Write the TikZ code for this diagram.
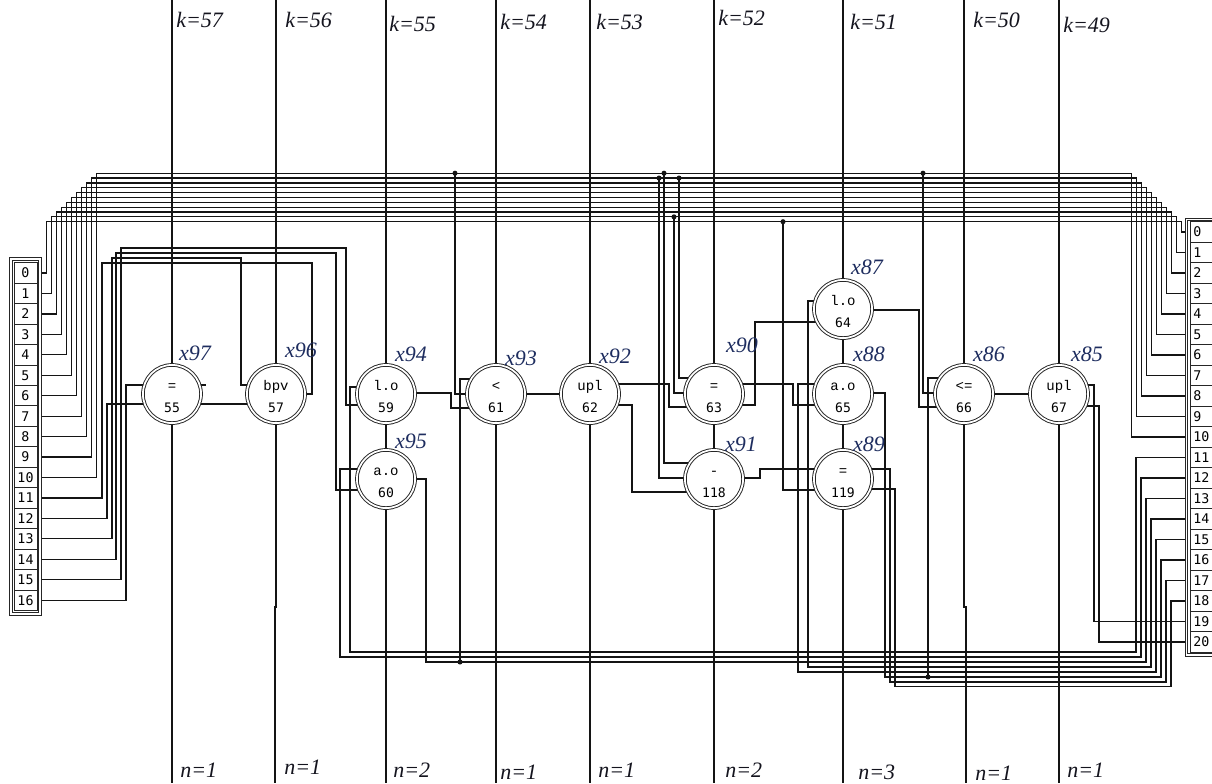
\documentclass[tikz,border=0pt]{standalone}
\usepackage{fontspec}
\setmainfont{Liberation Serif}
\newfontfamily\opfont{Liberation Mono}
\newfontfamily\numfont{DejaVu Sans Mono}
\usetikzlibrary{calc}
\pgfdeclarelayer{bg}
\pgfdeclarelayer{wires}
\pgfsetlayers{bg,wires,main}
\definecolor{wirec}{RGB}{20,20,20}
\definecolor{xlabc}{RGB}{30,45,95}
\definecolor{lblc}{RGB}{20,20,30}
\tikzset{
 wire/.style={draw=wirec, line width=0.9pt},
 frame/.style={draw=black!85, line width=0.7pt},
 opc/.style={circle, draw=black!85, line width=0.7pt, double=white, double distance=1.3pt, fill=white, minimum size=43.6pt, inner sep=0pt},
 optxt/.style={anchor=base, inner sep=0pt, font=\opfont\fontsize{10.5}{11}\selectfont},
 numtxt/.style={anchor=base, inner sep=0pt, font=\numfont\fontsize{9.8}{11}\selectfont},
 lcell/.style={draw=black!85, line width=0.7pt, rectangle, minimum width=17.25pt, minimum height=15.34pt, inner sep=0pt, font=\numfont\fontsize{10}{10}\selectfont},
 rcell/.style={draw=black!85, line width=0.7pt, rectangle, anchor=west, minimum height=15.375pt, text width=22pt, align=left, inner xsep=2.2pt, inner ysep=0pt, font=\numfont\fontsize{10}{10}\selectfont},
 klab/.style={anchor=west, inner sep=0pt, text=lblc, font=\itshape\fontsize{16.5}{18}\selectfont},
 xlab/.style={inner sep=0pt, text=xlabc, font=\itshape\fontsize{16.5}{18}\selectfont},
 jdot/.style={fill=wirec}
}
\begin{document}
\begin{tikzpicture}[x=0.75pt,y=-0.75pt]
\begin{pgfonlayer}{bg}
\fill[white] (0,0) rectangle (1212,783);
\end{pgfonlayer}
\useasboundingbox (0,0) rectangle (1212,783);
\coordinate (top) at (0,0);
\coordinate (bot) at (0,783);

% operator nodes
\foreach \cx/\cy/\op/\num in {172/394/{=}/55, 276/394/bpv/57, 386/394/l.o/59, 386/479/a.o/60,
  496/394/{<}/61, 590/394/upl/62, 714/394/{=}/63, 714/479/{-}/118, 843/309/l.o/64,
  843/394/a.o/65, 843/479/{=}/119, 964/394/{<=}/66, 1059/394/upl/67}{
  \node[opc] (n\num) at (\cx,\cy) {};
  \node[optxt] (o\num) at ($(n\num)+(0,-4)$) {\op};
  \node[numtxt] (c\num) at ($(n\num)+(0,18)$) {\num};
}

% registers
\draw[frame] (9.5,257.5) rectangle (41.5,615.5);
\draw[frame] (12.5,260.5) rectangle (38.5,612.5);
\foreach \i in {0,...,16} \node[lcell] (L\i) at (25.5,{273+20.45*\i}) {\i};
\draw[frame] (1185,218) rectangle (1240,656);
\draw[frame] (1187.5,220.5) rectangle (1240,653.5);
\foreach \i in {0,...,20} \node[rcell] (R\i) at (1190,{232+20.5*\i}) {\i};

% junctions
\coordinate (j1) at (455,173.2);
\coordinate (j2) at (664,173.2);
\coordinate (j3) at (659,178.05);
\coordinate (j4) at (679,178.05);
\coordinate (j5) at (674,216.85);
\coordinate (j6) at (783,221.7);
\coordinate (j7) at (923,173.2);
\coordinate (j8) at (460,662);
\coordinate (j9) at (928,677);
\coordinate (stub55) at (206,385);

\begin{pgfonlayer}{wires}
% top bus: left cells 0..10 to right cells 0..10
\foreach \i in {0,...,10}{
  \pgfmathsetmacro\xl{46.7+5*\i}
  \pgfmathsetmacro\yb{221.7-4.85*\i}
  \pgfmathsetmacro\xr{1181.7-5*\i}
  \draw[wire] ($(L\i.east)+(5,0)$) -| (\xl,\yb) -- (\xr,\yb) |- ($(R\i.west)+(-5,0)$);
}
% left cells 11..16
\draw[wire] ($(L11.east)+(5,0)$) -| (102,263) -| (312,394) -- (n57);
\draw[wire] ($(L12.east)+(5,0)$) -| (107,404) -- ($(n55)+(0,10)$);
\draw[wire] ($(L13.east)+(5,0)$) -| (112,258) -| (241,385) -- ($(n57)+(0,-9)$);
\draw[wire] ($(L14.east)+(5,0)$) -| (116,253) -| (336,490) -- ($(n60)+(0,11)$);
\draw[wire] ($(L15.east)+(5,0)$) -| (121,248) -| (346,405) -- ($(n59)+(0,11)$);
\draw[wire] ($(L16.east)+(5,0)$) -| (126,385) -- ($(n55)+(0,-9)$);
\draw[wire] ($(n55)+(0,-9)$) -- (stub55);
\draw[wire] ($(n55)+(0,10)$) -- ($(n57)+(0,10)$);

% bottom bus to right cells 11..20
\draw[wire] ($(n59)+(0,-7)$) -| (350,652) -| ($(R11.west)+(-54,0)$) -- ($(R11.west)+(-5,0)$);
\draw[wire] ($(n60)+(0,-10)$) -| (340,657) -| ($(R12.west)+(-49,0)$) -- ($(R12.west)+(-5,0)$);
\draw[wire] (n60) -| (426,662) -| ($(R13.west)+(-44,0)$) -- ($(R13.west)+(-5,0)$);
\draw[wire] ($(n61)+(0,-15)$) -| (j8);
\draw[wire] ($(n64)+(0,-8)$) -| (808,667) -| ($(R14.west)+(-39,0)$) -- ($(R14.west)+(-5,0)$);
\draw[wire] ($(n65)+(0,-10)$) -| (798,672) -| ($(R15.west)+(-34,0)$) -- ($(R15.west)+(-5,0)$);
\draw[wire] ($(n65)+(0,-1)$) -| (885,677) -| ($(R16.west)+(-29,0)$) -- ($(R16.west)+(-5,0)$);
\draw[wire] ($(n66)+(0,-16)$) -| (j9);
\draw[wire] ($(n119)+(0,-10)$) -| (890,682) -| ($(R17.west)+(-24,0)$) -- ($(R17.west)+(-5,0)$);
\draw[wire] ($(n119)+(0,10)$) -| (895,686.5) -| ($(R18.west)+(-19,0)$) -- ($(R18.west)+(-5,0)$);
\draw[wire] ($(n67)+(0,-9)$) -| ($(R19.west)+(-96,0)$) -- ($(R19.west)+(-5,0)$);
\draw[wire] ($(n67)+(0,12)$) -| ($(R20.west)+(-91,0)$) -- ($(R20.west)+(-5,0)$);

% drops from the top bus
\draw[wire] (j1) |- (n61);
\draw[wire] (j2) |- ($(n118)+(0,-16)$);
\draw[wire] (j3) |- ($(n118)+(0,-1)$);
\draw[wire] (j4) |- ($(n63)+(0,-16)$);
\draw[wire] (j5) |- ($(n63)+(0,-1)$);
\draw[wire] (j6) |- ($(n119)+(0,11)$);
\draw[wire] (j7) |- ($(n66)+(0,-1)$);

% node to node
\draw[wire] ($(n59)+(0,-1)$) -| (451,408) -- ($(n61)+(0,14)$);
\draw[wire] (n61) -- (n62);
\draw[wire] ($(n62)+(0,-10)$) -| (669,407) -- ($(n63)+(0,13)$);
\draw[wire] ($(n62)+(0,11)$) -| (632,492) -- ($(n118)+(0,13)$);
\draw[wire] ($(n63)+(0,-10)$) -| (793,405) -- ($(n65)+(0,11)$);
\draw[wire] ($(n63)+(0,11)$) -| (755,322) -- ($(n64)+(0,13)$);
\draw[wire] ($(n64)+(0,1)$) -| (919,407) -- ($(n66)+(0,13)$);
\draw[wire] ($(n118)+(0,-1)$) -| (760,469) -- ($(n119)+(0,-10)$);
\draw[wire] (n66) -- (n67);
\draw[wire] (n59) -- (n60);
\draw[wire] (n63) -- (n118);
\draw[wire] (n64) -- (n65);
\draw[wire] (n65) -- (n119);

% k lines (top) and n lines (bottom)
\foreach \num in {55,57,59,61,62,63,64,66,67} \draw[wire] (n\num |- top) -- (n\num);
\foreach \num in {55,60,61,62,118,119,67} \draw[wire] (n\num) -- (n\num |- bot);
\draw[wire] (n57) -- (276,607) -- (275,607) -- (275,783);
\draw[wire] (n66) -- (964,607) -- (966,607) -- (966,783);
\end{pgfonlayer}

% junction dots
\foreach \j in {j1,j2,j3,j4,j5,j6,j7,j8,j9} \fill[jdot] (\j) circle[radius=1.9pt];

% k labels
\node[klab] (k57) at (176,20) {k=57};
\node[klab] (k56) at (285,20) {k=56};
\node[klab] (k55) at (389,24) {k=55};
\node[klab] (k54) at (500,22) {k=54};
\node[klab] (k53) at (596,22) {k=53};
\node[klab] (k52) at (718,18) {k=52};
\node[klab] (k51) at (850,22) {k=51};
\node[klab] (k50) at (973,20) {k=50};
\node[klab] (k49) at (1063,25) {k=49};
% n labels
\node[klab] (m55) at (180,770) {n=1};
\node[klab] (m57) at (284,767) {n=1};
\node[klab] (m60) at (393,770) {n=2};
\node[klab] (m61) at (500,772) {n=1};
\node[klab] (m62) at (598,770) {n=1};
\node[klab] (m118) at (725,770) {n=2};
\node[klab] (m119) at (858,772) {n=3};
\node[klab] (m66) at (975,773) {n=1};
\node[klab] (m67) at (1067,770) {n=1};
% x labels
\node[xlab] (x97) at (195,353) {x97};
\node[xlab] (x96) at (301,350) {x96};
\node[xlab] (x94) at (411,354) {x94};
\node[xlab] (x95) at (411,441) {x95};
\node[xlab] (x93) at (521,358) {x93};
\node[xlab] (x92) at (615,356) {x92};
\node[xlab] (x90) at (742,345) {x90};
\node[xlab] (x91) at (741,444) {x91};
\node[xlab] (x87) at (867,267) {x87};
\node[xlab] (x88) at (869,354) {x88};
\node[xlab] (x89) at (869,444) {x89};
\node[xlab] (x86) at (989,354) {x86};
\node[xlab] (x85) at (1087,354) {x85};
\end{tikzpicture}
\end{document}
